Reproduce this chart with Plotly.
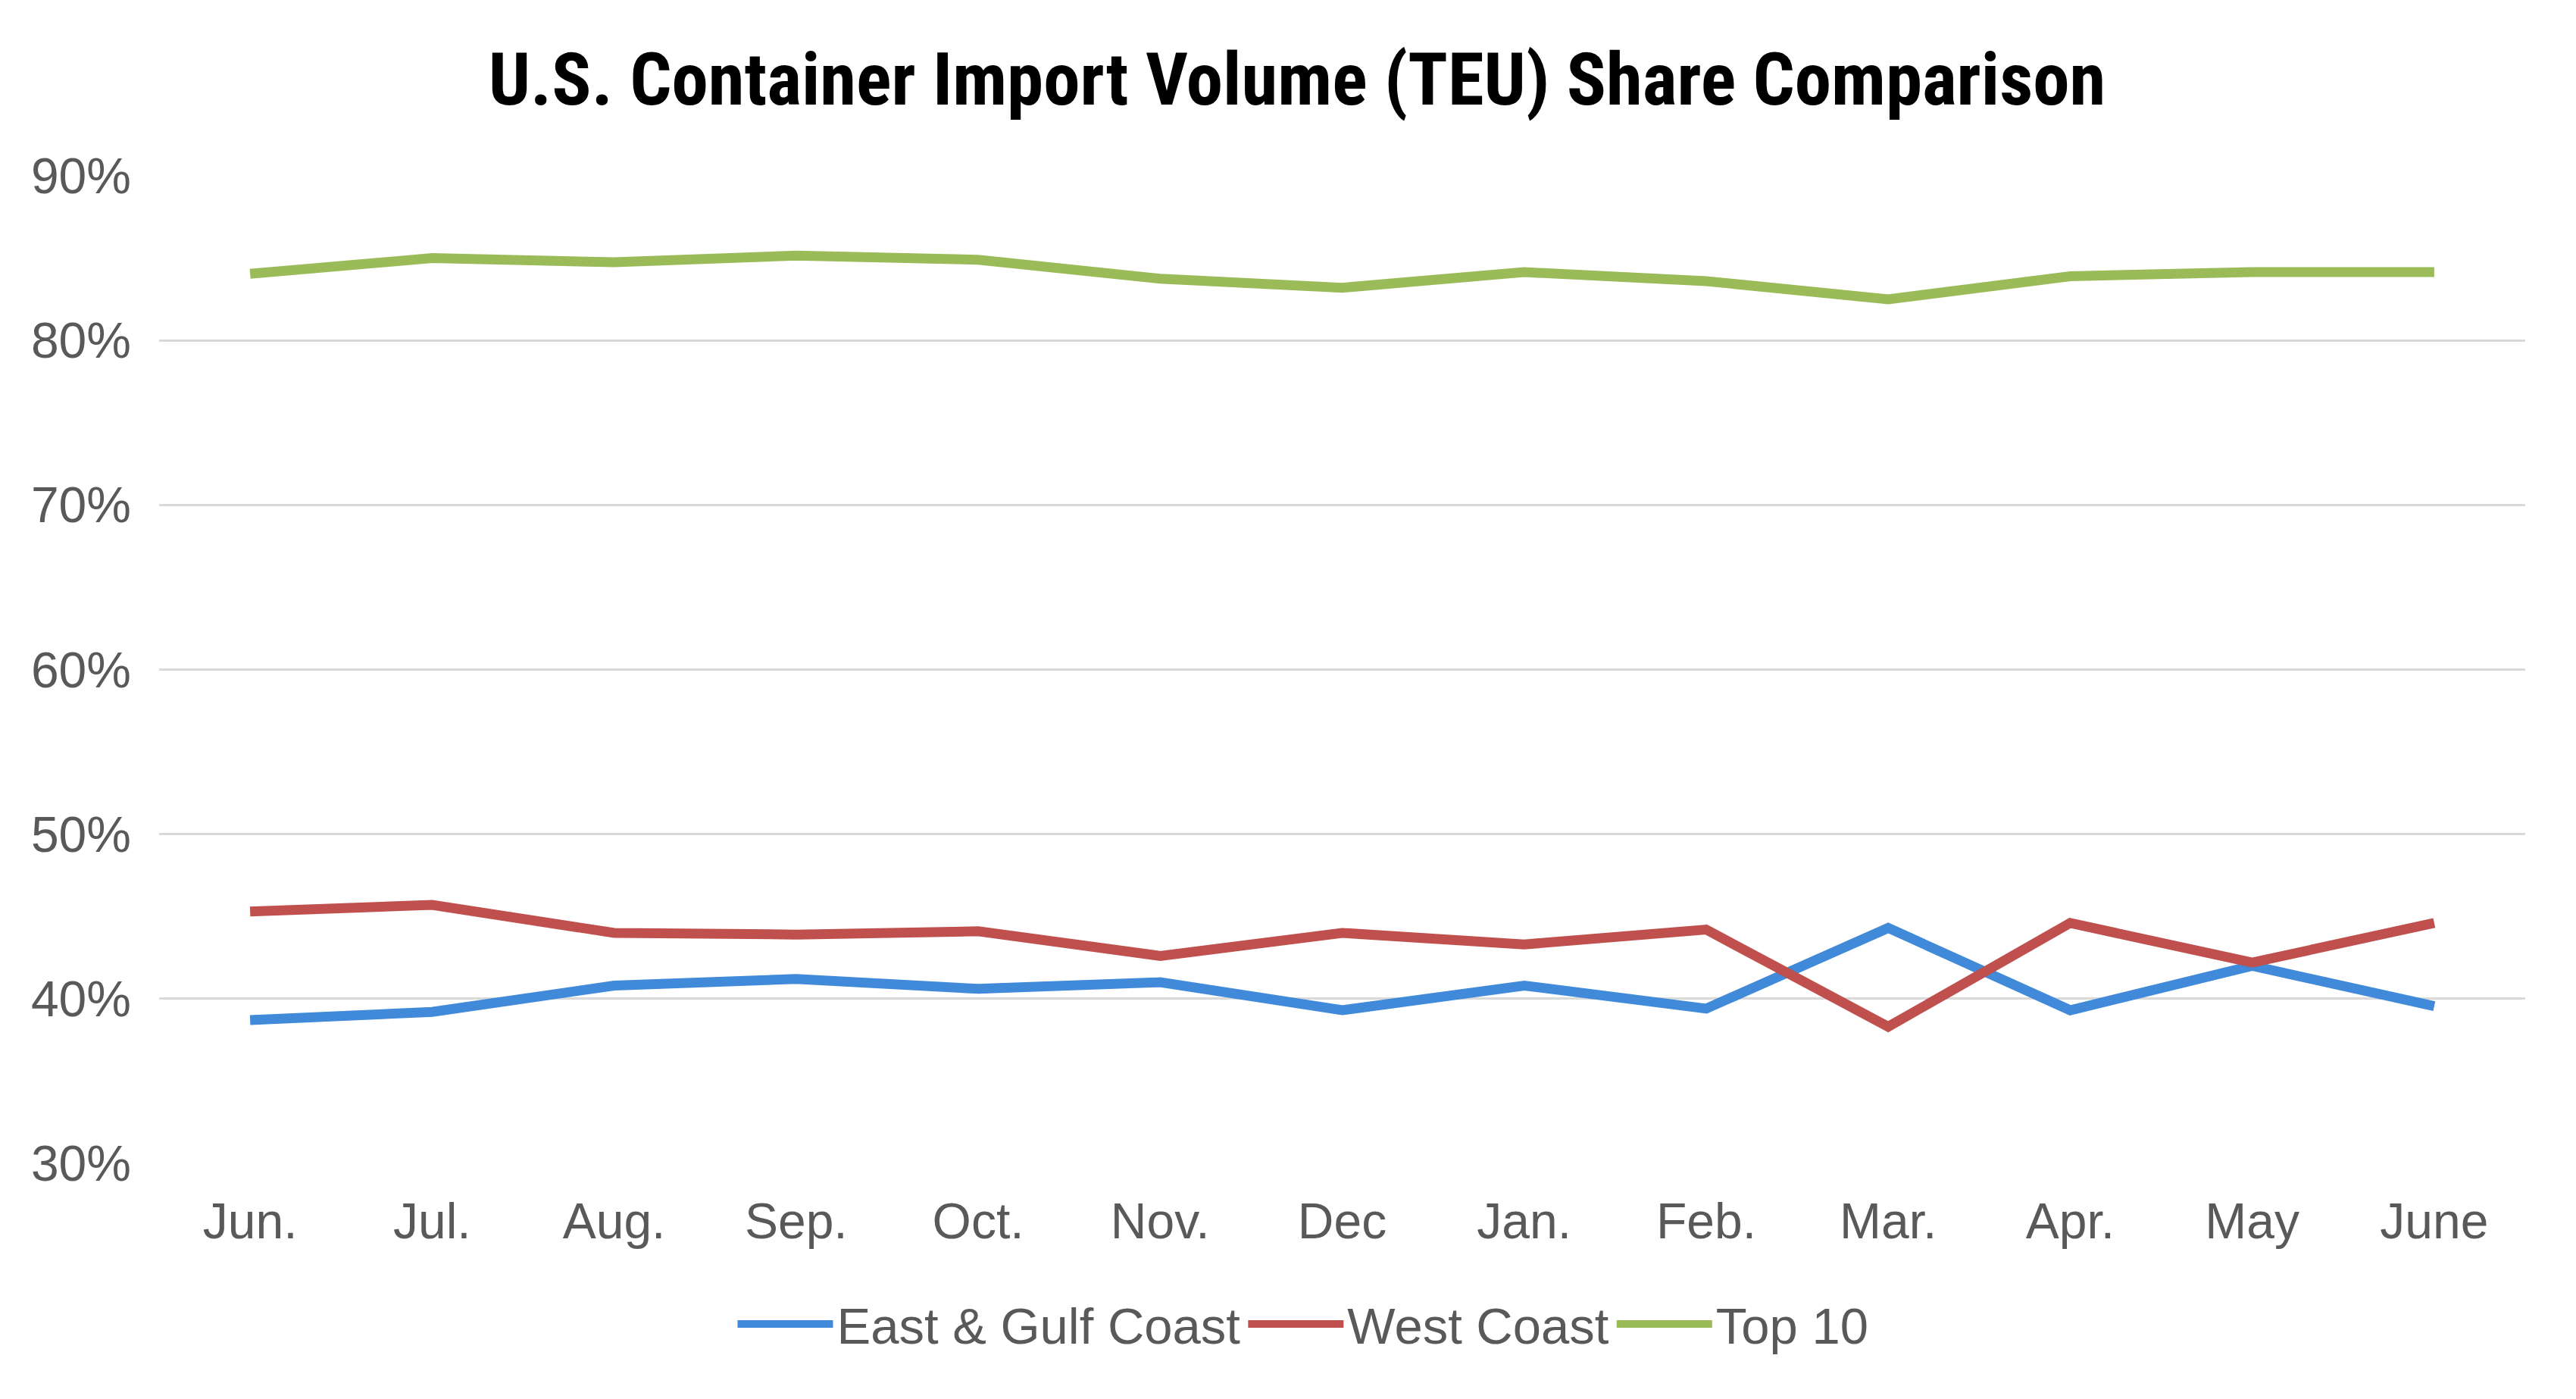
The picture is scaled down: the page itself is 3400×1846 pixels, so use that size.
import plotly.graph_objects as go

months = ["Jun.", "Jul.", "Aug.", "Sep.", "Oct.", "Nov.", "Dec", "Jan.", "Feb.", "Mar.", "Apr.", "May", "June"]
east_gulf = [38.7, 39.2, 40.8, 41.2, 40.6, 41.0, 39.3, 40.8, 39.4, 44.3, 39.3, 42.0, 39.55]
west_coast = [45.3, 45.7, 44.0, 43.9, 44.1, 42.6, 44.0, 43.3, 44.2, 38.3, 44.6, 42.2, 44.6]
top10 = [84.05, 85.0, 84.75, 85.15, 84.9, 83.75, 83.2, 84.15, 83.6, 82.5, 83.9, 84.15, 84.15]

series = [
    ("East & Gulf Coast", east_gulf, "#418ad9"),
    ("West Coast", west_coast, "#c0504d"),
    ("Top 10", top10, "#9bbb59"),
]

fig = go.Figure()
for name, vals, color in series:
    fig.add_trace(go.Scatter(x=months, y=vals, name=name, mode="lines",
                             line=dict(color=color, width=13)))

font_main = "Liberation Sans, Arial, sans-serif"
fig.update_layout(
    width=3400, height=1846,
    paper_bgcolor="white", plot_bgcolor="white",
    margin=dict(l=210, r=67, t=232, b=311),
    title=dict(text="<b>U.S. Container Import Volume (TEU) Share Comparison</b>",
               x=1712 / 3400, xanchor="center", y=1 - 104 / 1846, yanchor="middle",
               font=dict(family="Roboto Condensed, Liberation Sans Narrow, Roboto, sans-serif", size=97, color="black")),
    font=dict(family=font_main, size=67, color="#595959"),
    legend=dict(orientation="h", x=0.4835, xanchor="center",
                y=-0.163, yanchor="middle",
                font=dict(size=67, color="#595959"), itemwidth=126, tracegroupgap=0),
    showlegend=True,
)
fig.update_xaxes(type="category", range=[-0.5, 12.5], showgrid=False, showline=False,
                 ticks="", ticklabelstandoff=32, tickfont=dict(size=66, color="#595959"))
fig.update_yaxes(range=[30, 90], dtick=10, ticksuffix="%", showgrid=True, gridcolor="#d9d9d9",
                 gridwidth=3, zeroline=False, showline=False, ticks="", ticklabelstandoff=36,
                 tickfont=dict(size=66, color="#595959"))

fig.write_html("out.html")
